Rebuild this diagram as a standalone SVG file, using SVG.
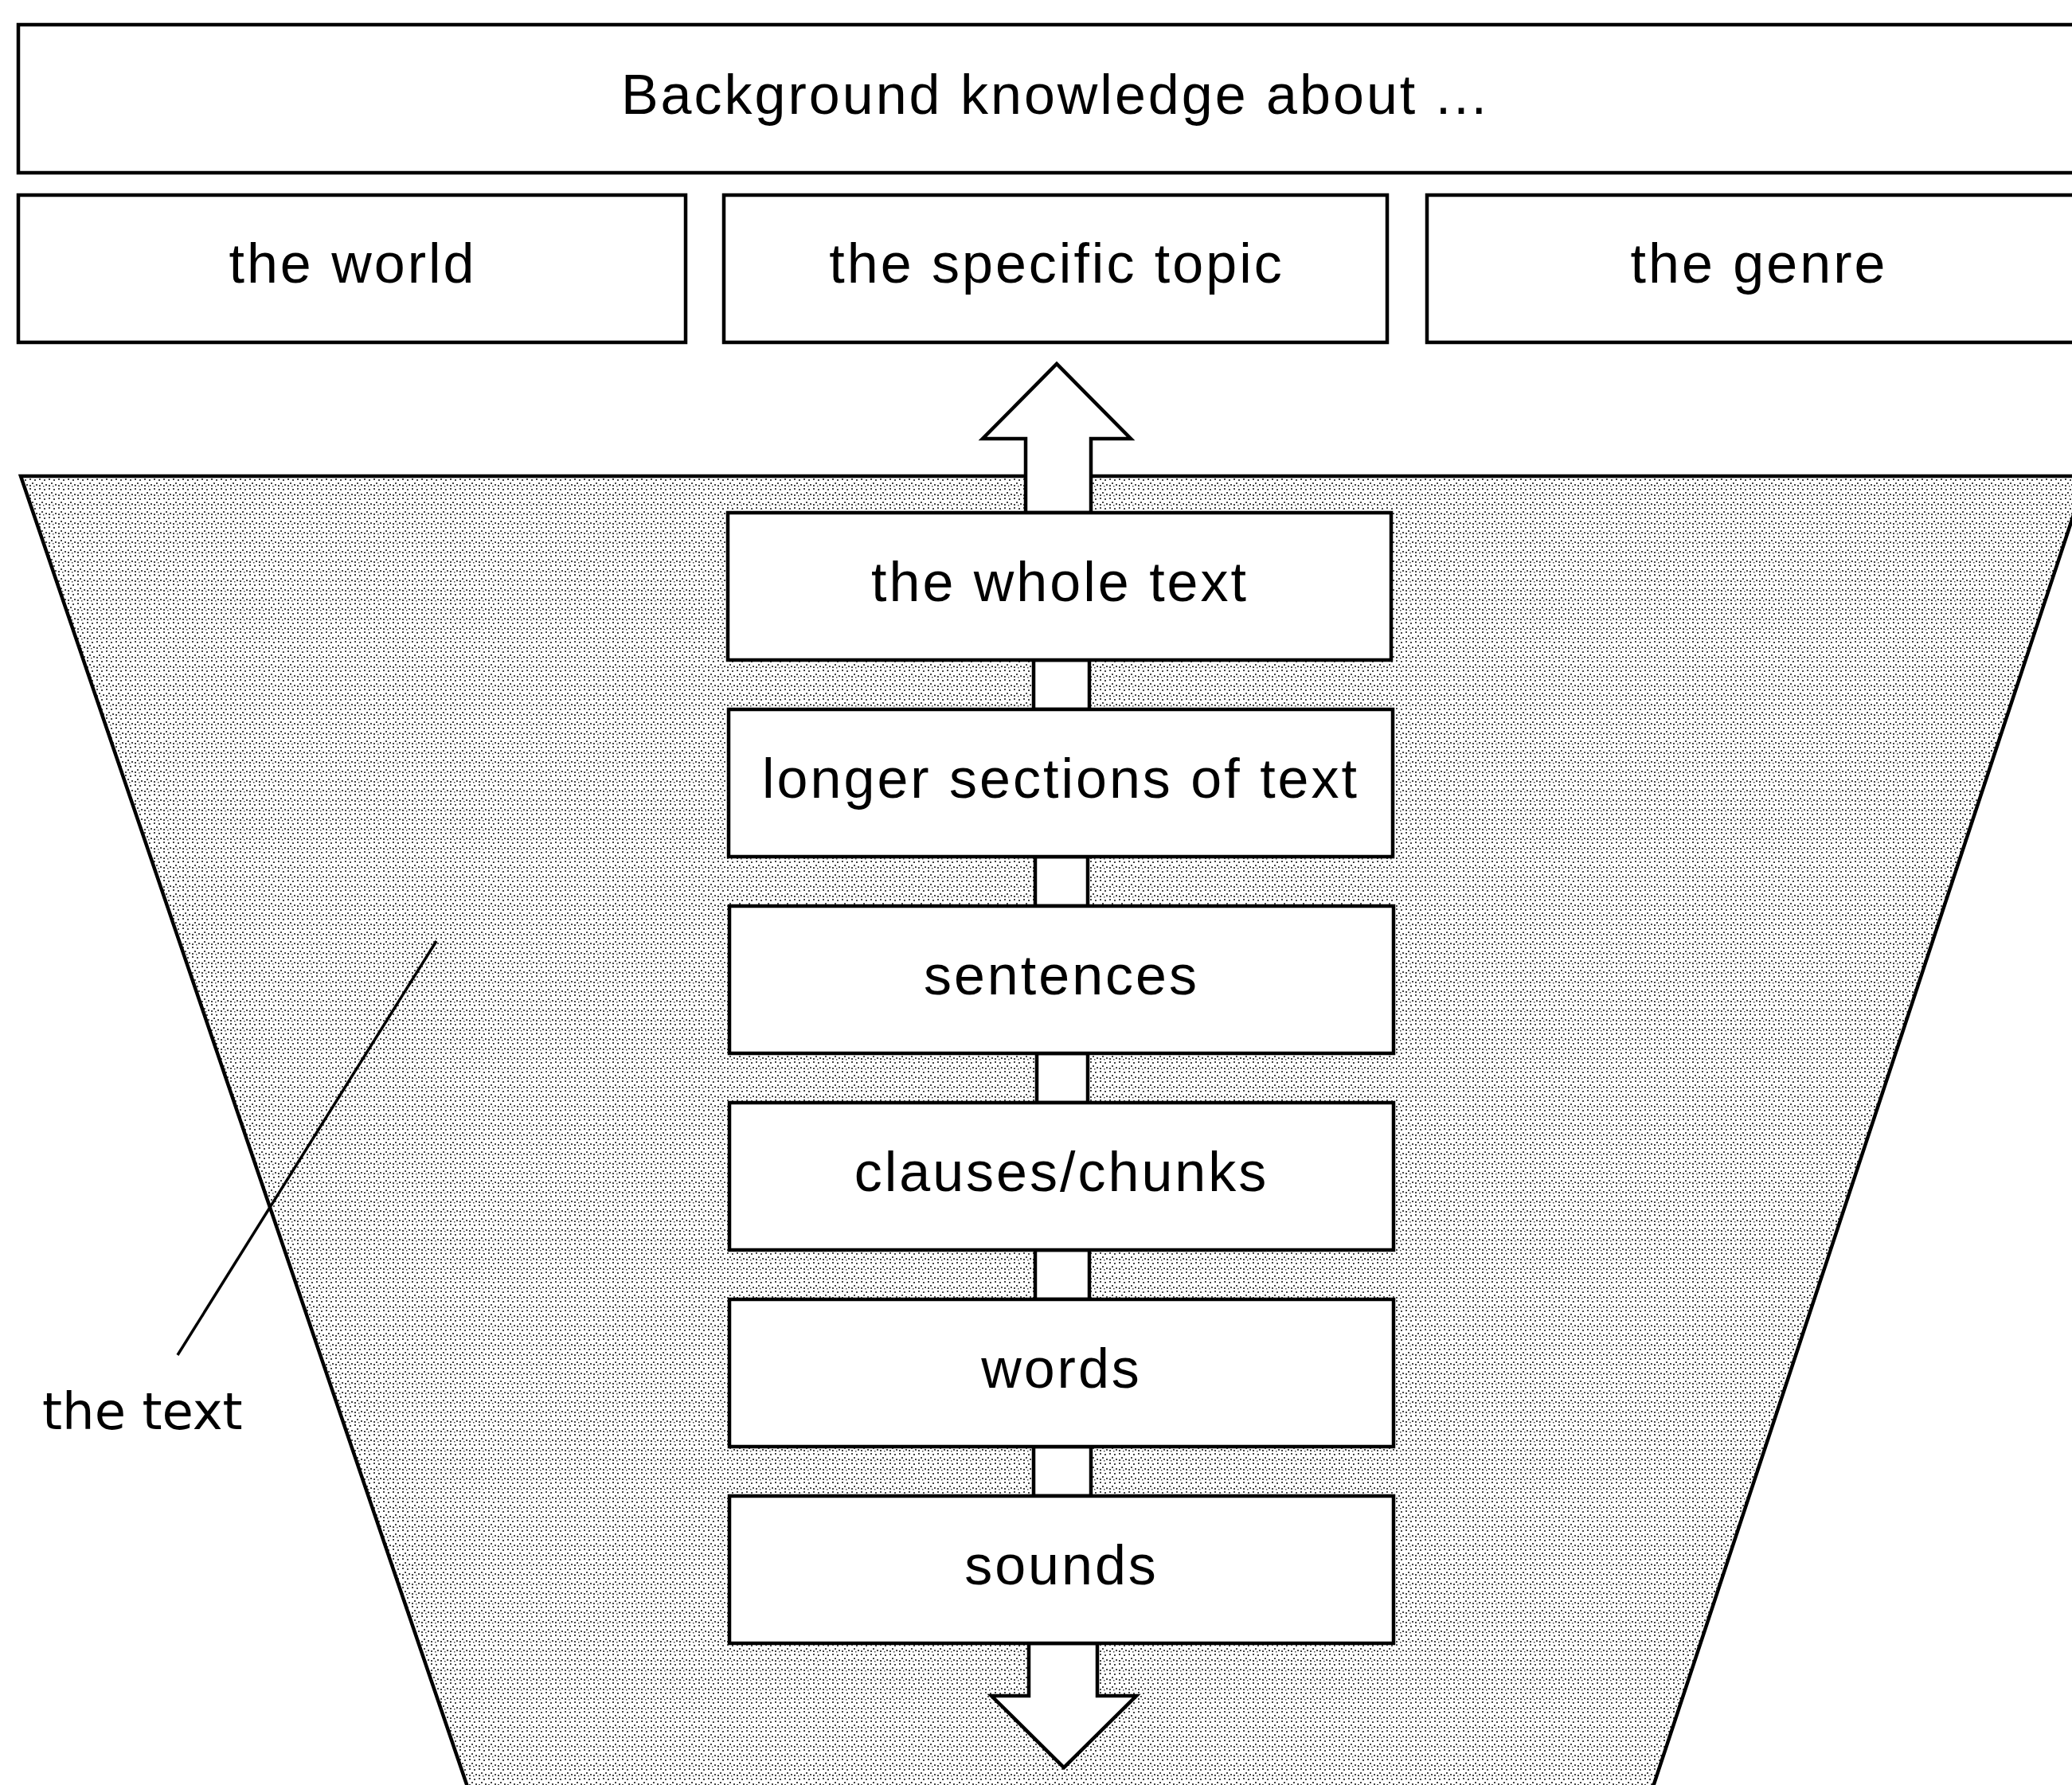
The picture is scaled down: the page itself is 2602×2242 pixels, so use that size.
<svg xmlns="http://www.w3.org/2000/svg" width="2602" height="2242" viewBox="0 0 2602 2242">
<style>
.box{fill:#fff;stroke:#000;stroke-width:4.5}
.lbl{font-family:"Liberation Sans",Arial,sans-serif;font-size:70px;letter-spacing:3px;text-anchor:middle;fill:#000}
.conn{fill:#fff;stroke:#000;stroke-width:4.5;stroke-linejoin:miter}
</style>
<defs>
<pattern id="stip" width="12" height="12" patternUnits="userSpaceOnUse">
<rect width="12" height="12" fill="#fff"/>
<rect x="1" y="1" width="2" height="2" fill="#444"/>
<rect x="7" y="2" width="2" height="2" fill="#444"/>
<rect x="4" y="6" width="2" height="2" fill="#444"/>
<rect x="9" y="8" width="2" height="2" fill="#444"/>
<rect x="1" y="9" width="2" height="2" fill="#444"/>
<rect x="6" y="10" width="1.5" height="1.5" fill="#444"/>
</pattern>
</defs>
<rect width="2602" height="2242" fill="#fff"/>

<g id="the-text-region">
<polygon points="26,598 2620,598 2074,2250 589,2250" fill="url(#stip)" stroke="#000" stroke-width="4.5"/>
</g>

<g id="header">
<rect class="box" x="23" y="31" width="2604" height="186"/>
<text class="lbl" x="1325" y="143">Background knowledge about ...</text>
</g>
<g id="world">
<rect class="box" x="23" y="245" width="838" height="185"/>
<text class="lbl" x="443" y="355">the world</text>
</g>
<g id="topic">
<rect class="box" x="909" y="245" width="833" height="185"/>
<text class="lbl" x="1327" y="355">the specific topic</text>
</g>
<g id="genre">
<rect class="box" x="1792" y="245" width="834" height="185"/>
<text class="lbl" x="2209" y="355">the genre</text>
</g>

<g id="connectors">
<polygon class="conn" points="1288,644 1288,551 1234,551 1327,457 1420,551 1370,551 1370,644"/>
<rect class="conn" x="1298" y="829" width="70" height="62"/>
<rect class="conn" x="1300" y="1076" width="66" height="62"/>
<rect class="conn" x="1302" y="1323" width="64" height="62"/>
<rect class="conn" x="1300" y="1570" width="68" height="62"/>
<rect class="conn" x="1298" y="1817" width="72" height="62"/>
<polygon class="conn" points="1292,2064 1292,2130 1245,2130 1336,2220 1427,2130 1378,2130 1378,2064"/>
<line x1="548" y1="1182" x2="223" y2="1702" stroke="#000" stroke-width="3.5"/>
</g>

<g id="whole-text">
<rect class="box" x="914" y="644" width="833" height="185"/>
<text class="lbl" x="1331" y="755">the whole text</text>
</g>
<g id="longer-sections">
<rect class="box" x="915" y="891" width="834" height="185"/>
<text class="lbl" x="1332" y="1002">longer sections of text</text>
</g>
<g id="sentences">
<rect class="box" x="916" y="1138" width="834" height="185"/>
<text class="lbl" x="1333" y="1249">sentences</text>
</g>
<g id="clauses">
<rect class="box" x="916" y="1385" width="834" height="185"/>
<text class="lbl" x="1333" y="1496">clauses/chunks</text>
</g>
<g id="words">
<rect class="box" x="916" y="1632" width="834" height="185"/>
<text class="lbl" x="1333" y="1743">words</text>
</g>
<g id="sounds">
<rect class="box" x="916" y="1879" width="834" height="185"/>
<text class="lbl" x="1333" y="1990">sounds</text>
</g>

<g id="label-the-text">
<text x="53" y="1795" font-family="DejaVu Sans, sans-serif" font-size="64" fill="#000">the text</text>
</g>
</svg>
